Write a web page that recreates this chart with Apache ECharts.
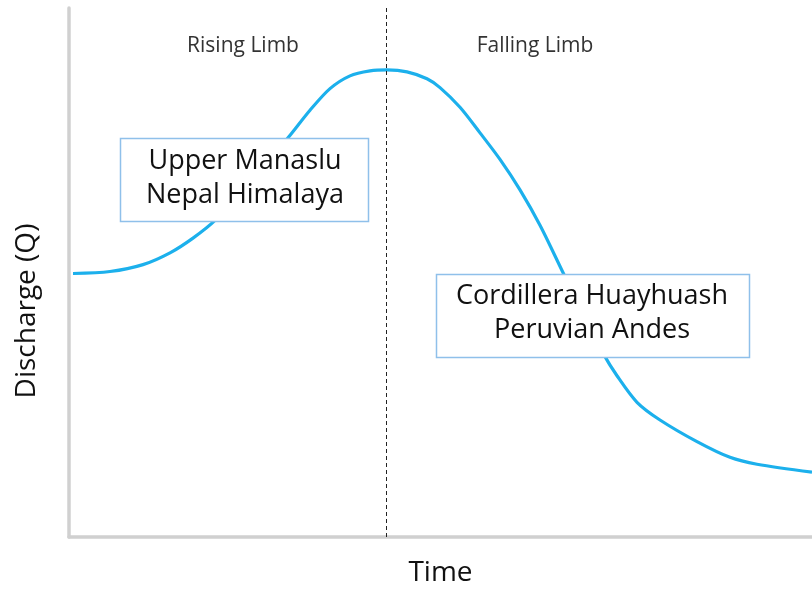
<!DOCTYPE html>
<html>
<head>
<meta charset="utf-8">
<script src="https://cdn.jsdelivr.net/npm/echarts@6/dist/echarts.min.js"></script>
<style>html,body{margin:0;padding:0;background:#fff}#c{width:812px;height:592px}</style>
</head>
<body>
<div id="c"></div>
<script>
// Time (arbitrary units) and discharge (arbitrary units)
var time = [4,41,74,101,124,146,181,219,241,261,281,301,318,338,358,371,391,411,431,451,471,493,513,534,548,568,591,628,661,688,743];
var discharge = [268,270,277,289,304,322,361,406,434,456,469,474,475,473,466,457,437,411,384,353,317,271,229,187,164,137,119,97,81,74,66];
var peakTime = 317;
var phaseLabels = ['Rising Limb', 'Falling Limb'];
var boxLabels = ['Upper Manaslu\nNepal Himalaya', 'Cordillera Huayhuash\nPeruvian Andes'];
var xName = 'Time';
var yName = 'Discharge (Q)';

var FONT = '"Open Sans", "Noto Sans", sans-serif';
var chart = echarts.init(document.getElementById('c'));
var pts = time.map(function (t, i) { return [t, discharge[i]]; });

chart.setOption({
  animation: false,
  grid: { left: 69, right: 0, top: 8, bottom: 46 },
  xAxis: {
    type: 'value', min: 0, max: 743,
    axisLine: { show: true, lineStyle: { color: '#d0d0d0', width: 3.5 } },
    axisTick: { show: false }, axisLabel: { show: false }, splitLine: { show: false },
    name: xName, nameLocation: 'middle', nameGap: 22,
    nameTextStyle: { fontFamily: FONT, fontSize: 28, color: '#111' }
  },
  yAxis: {
    type: 'value', min: 0, max: 538,
    axisLine: { show: true, lineStyle: { color: '#d0d0d0', width: 3.5 } },
    axisTick: { show: false }, axisLabel: { show: false }, splitLine: { show: false }
  },
  series: [{
    type: 'line', data: pts, smooth: 0.3, showSymbol: false,
    lineStyle: { color: '#1cb0ec', width: 3.2 },
    markLine: {
      silent: true, symbol: 'none', label: { show: false },
      lineStyle: { color: '#222', type: [4, 3], width: 1 },
      data: [{ xAxis: peakTime }]
    }
  }],
  graphic: [
    { type: 'text', x: 243, y: 46, style: { text: phaseLabels[0], font: '21px ' + FONT, fill: '#333', textAlign: 'center', textVerticalAlign: 'middle' } },
    { type: 'text', x: 535, y: 46, style: { text: phaseLabels[1], font: '21px ' + FONT, fill: '#333', textAlign: 'center', textVerticalAlign: 'middle' } },
    { type: 'text', x: 27, y: 311, rotation: Math.PI / 2, style: { text: yName, font: '28px ' + FONT, fill: '#111', textAlign: 'center', textVerticalAlign: 'middle' } },
    { type: 'rect', shape: { x: 120.5, y: 138.5, width: 248, height: 83 }, style: { fill: '#fff', stroke: '#8fc0ea', lineWidth: 1.5 }, z: 10 },
    { type: 'text', x: 245, y: 178, z: 11, style: { text: boxLabels[0], font: '27px ' + FONT, fill: '#111', textAlign: 'center', textVerticalAlign: 'middle', lineHeight: 34 } },
    { type: 'rect', shape: { x: 436.5, y: 274.5, width: 313, height: 83 }, style: { fill: '#fff', stroke: '#8fc0ea', lineWidth: 1.5 }, z: 10 },
    { type: 'text', x: 592, y: 313, z: 11, style: { text: boxLabels[1], font: '27px ' + FONT, fill: '#111', textAlign: 'center', textVerticalAlign: 'middle', lineHeight: 34 } }
  ]
});
</script>
</body>
</html>
